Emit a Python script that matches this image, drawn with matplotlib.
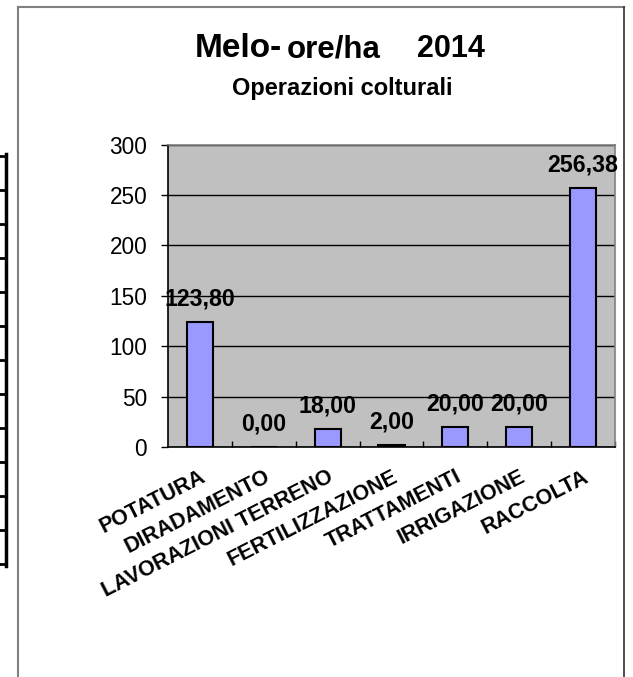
import numpy as np
import matplotlib
matplotlib.use('Agg')
import matplotlib.pyplot as plt
from matplotlib.lines import Line2D

plt.rcParams['font.family'] = ['Liberation Sans', 'DejaVu Sans']

# data
categories = ['POTATURA', 'DIRADAMENTO', 'LAVORAZIONI TERRENO', 'FERTILIZZAZIONE',
              'TRATTAMENTI', 'IRRIGAZIONE', 'RACCOLTA']
hours = [123.80, 0.00, 18.00, 2.00, 20.00, 20.00, 256.38]
yticks = [0, 50, 100, 150, 200, 250, 300]

W, H = 633, 677
fig = plt.figure(figsize=(W / 100, H / 100), dpi=100)

def px(x, y):
    # pixel (from top-left) -> figure fraction
    return x / W, 1 - y / H

# chart frame
fig.add_artist(Line2D([18 / W, 18 / W], [0, 1 - 7 / H], color='#808080', lw=1.5))
fig.add_artist(Line2D([18 / W, 624 / W], [1 - 7 / H, 1 - 7 / H], color='#808080', lw=1.5))
fig.add_artist(Line2D([624 / W, 624 / W], [0, 1 - 7 / H], color='#303030', lw=1.2))

# piece of the neighbouring table on the left
fig.add_artist(Line2D([6 / W, 6 / W], [1 - 154 / H, 1 - 566 / H], color='black', lw=2.5))
for yy in range(156, 570, 34):
    fig.add_artist(Line2D([0, 6 / W], [1 - yy / H, 1 - yy / H], color='black', lw=2))

# titles
x0, y0 = px(195, 57)
fig.text(x0, y0, 'Melo-', fontsize=24, fontweight='bold', ha='left', va='baseline')
x1, _ = px(287, 57)
fig.text(x1, y0, 'ore/ha', fontsize=22.5, fontweight='bold', ha='left', va='baseline')
x2, _ = px(485, 57)
fig.text(x2, y0, '2014', fontsize=22, fontweight='bold', ha='right', va='baseline')
xs, ys = px(342, 95)
fig.text(xs, ys, 'Operazioni colturali', fontsize=17, fontweight='bold', ha='center', va='baseline')

# plot area
left, right, top, bottom = 168, 615, 144.5, 447
ax = fig.add_axes([left / W, 1 - bottom / H, (right - left) / W, (bottom - top) / H])
ax.set_facecolor('#C0C0C0')

x = np.arange(len(categories))
ax.bar(x, hours, width=0.41, color='#9999FF', edgecolor='black', linewidth=1.5, zorder=3)

for xi, v in zip(x, hours):
    ax.annotate(f'{v:.2f}'.replace('.', ','), (xi, v), xytext=(0, 12), textcoords='offset points',
                ha='center', va='baseline', fontsize=16.7, fontweight='bold', zorder=4,
                annotation_clip=False)

ax.set_xlim(-0.5, len(categories) - 0.5)
ax.set_ylim(0, 300)
ax.set_yticks(yticks)
ax.set_yticklabels([str(t) for t in yticks], fontsize=16.3)
ax.yaxis.grid(True, color='black', lw=1)
ax.set_axisbelow(True)
ax.tick_params(axis='y', direction='out', length=5, width=1, pad=10)

ax.set_xticks(x)
ax.set_xticklabels(categories, rotation=27, ha='right', va='top', rotation_mode='anchor',
                   fontsize=15.5, fontweight='bold')
ax.tick_params(axis='x', which='major', length=0, pad=14)
ax.set_xticks(np.arange(0.5, len(categories)), minor=True)
ax.tick_params(axis='x', which='minor', direction='in', length=4, width=1)

ax.spines['left'].set_color('black')
ax.spines['bottom'].set_color('black')
ax.spines['top'].set_color('#808080')
ax.spines['right'].set_color('#808080')
for s in ax.spines.values():
    s.set_linewidth(1.2)

fig.savefig('out.png', dpi=100)
